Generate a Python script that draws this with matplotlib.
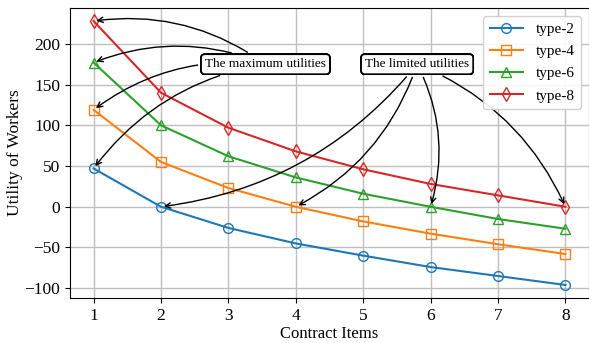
import matplotlib
matplotlib.use("Agg")
import matplotlib.pyplot as plt

# data
items = [1, 2, 3, 4, 5, 6, 7, 8]
type2 = [47, 0, -26, -45, -60, -74, -85, -96]
type4 = [119, 55, 23, 0, -18, -33, -46, -58]
type6 = [177, 100, 62, 36, 16, 0, -15, -27]
type8 = [228, 140, 97, 68, 46, 28, 14, 0]

series = [("type-2", type2, "o"), ("type-4", type4, "s"),
          ("type-6", type6, "^"), ("type-8", type8, "d")]
colors = ["#1f77b4", "#ff7f0e", "#2ca02c", "#d62728"]

plt.rcParams["font.family"] = ["Liberation Serif", "DejaVu Serif"]

fig = plt.figure(figsize=(5.89, 3.43), dpi=100)
ax = fig.add_axes([70 / 589, 1 - 298 / 343, 519 / 589, 290 / 343])

for (name, vals, mk), c in zip(series, colors):
    ax.plot(items, vals, marker=mk, color=c, label=name, markersize=7,
            markerfacecolor="none", linewidth=1.5)

ax.grid(True, color="#bfbfbf", linewidth=1)
ax.set_axisbelow(True)
ax.set_xlabel("Contract Items", fontsize=12, labelpad=2)
ax.set_ylabel("Utility of Workers", fontsize=12.5, labelpad=1)
ax.tick_params(labelsize=12.5)
ax.set_xticks(items)
ax.set_yticks([-100, -50, 0, 50, 100, 150, 200])
ax.set_xlim(0.65, 8.35)
ax.set_ylim(-112, 244)

box = dict(boxstyle="round,pad=0.3", fc="white", ec="black", lw=1.2)

# maximum utilities arrows
max_targets = [(1, type8[0], 0.2), (1, type6[0], 0.2),
               (1, type4[0], 0.2), (1, type2[0], 0.2)]
for x, y, rad in max_targets:
    ax.annotate("The maximum utilities", xy=(x, y), xytext=(3.55, 175),
                ha="center", va="center", fontsize=9.5, bbox=box,
                arrowprops=dict(arrowstyle="->", color="black", lw=1,
                                connectionstyle=f"arc3,rad={rad}"))

# limited utilities arrows
lim_targets = [(2, type2[1], -0.2), (4, type4[3], -0.2),
               (6, type6[5], -0.2), (8, type8[7], -0.2)]
for x, y, rad in lim_targets:
    ax.annotate("The limited utilities", xy=(x, y), xytext=(5.8, 175),
                ha="center", va="center", fontsize=9.5, bbox=box,
                arrowprops=dict(arrowstyle="->", color="black", lw=1,
                                connectionstyle=f"arc3,rad={rad}"))

ax.legend(loc="upper right", fontsize=11, handlelength=2.2, framealpha=0.9,
          borderpad=0.45, labelspacing=0.55)

fig.savefig("out.png", dpi=100)
